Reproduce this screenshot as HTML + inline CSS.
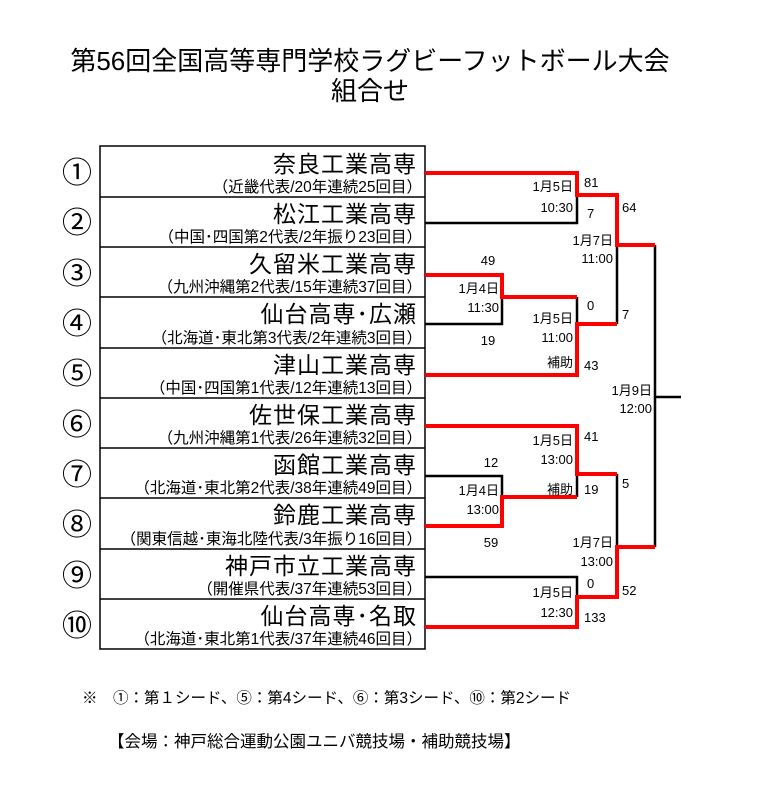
<!DOCTYPE html>
<html><head><meta charset="utf-8"><style>
body{margin:0;background:#fff;}
svg{display:block;font-family:"Liberation Sans","Noto Sans CJK JP",sans-serif;}
</style></head><body>
<svg width="779" height="800" viewBox="0 0 779 800" xmlns="http://www.w3.org/2000/svg">
<text x="370" y="70" font-size="26" text-anchor="middle">第56回全国高等専門学校ラグビーフットボール大会</text>
<text x="370" y="100" font-size="26" text-anchor="middle">組合せ</text>
<g stroke="#000" stroke-width="1.5" fill="none">
<rect x="100" y="146" width="325" height="503"/>
<line x1="100" y1="197" x2="425" y2="197"/><line x1="100" y1="247" x2="425" y2="247"/>
<line x1="100" y1="297" x2="425" y2="297"/><line x1="100" y1="348" x2="425" y2="348"/>
<line x1="100" y1="398" x2="425" y2="398"/><line x1="100" y1="448" x2="425" y2="448"/>
<line x1="100" y1="498" x2="425" y2="498"/><line x1="100" y1="549" x2="425" y2="549"/>
<line x1="100" y1="599" x2="425" y2="599"/>
</g>
<g font-size="30" text-anchor="middle">
<text x="77" y="183">①</text><text x="77" y="233">②</text><text x="77" y="284">③</text>
<text x="77" y="334">④</text><text x="77" y="384">⑤</text><text x="77" y="435">⑥</text>
<text x="77" y="485">⑦</text><text x="77" y="535">⑧</text><text x="77" y="586">⑨</text><text x="77" y="636">⑩</text>
</g>
<g font-size="23" text-anchor="end" letter-spacing="1">
<text x="417" y="172">奈良工業高専</text><text x="417" y="222">松江工業高専</text>
<text x="417" y="272">久留米工業高専</text><text x="417" y="322">仙台高専･広瀬</text>
<text x="417" y="373">津山工業高専</text><text x="417" y="423">佐世保工業高専</text>
<text x="417" y="473">函館工業高専</text><text x="417" y="523">鈴鹿工業高専</text>
<text x="417" y="574">神戸市立工業高専</text><text x="417" y="624">仙台高専･名取</text>
</g>
<g font-size="15.5" text-anchor="end">
<text x="422" y="192">（近畿代表/20年連続25回目）</text>
<text x="422" y="242">（中国･四国第2代表/2年振り23回目）</text>
<text x="422" y="292">（九州沖縄第2代表/15年連続37回目）</text>
<text x="422" y="343">（北海道･東北第3代表/2年連続3回目）</text>
<text x="422" y="393">（中国･四国第1代表/12年連続13回目）</text>
<text x="422" y="443">（九州沖縄第1代表/26年連続32回目）</text>
<text x="422" y="493">（北海道･東北第2代表/38年連続49回目）</text>
<text x="422" y="544">（関東信越･東海北陸代表/3年振り16回目）</text>
<text x="422" y="594">（開催県代表/37年連続53回目）</text>
<text x="422" y="644">（北海道･東北第1代表/37年連続46回目）</text>
</g>
<g stroke="#000" stroke-width="2.5" fill="none">
<polyline points="425,223 577,223 577,195"/>
<polyline points="425,324 502,324 502,297"/>
<line x1="577" y1="297" x2="577" y2="324"/>
<line x1="617" y1="245" x2="617" y2="324"/>
<line x1="655" y1="245" x2="655" y2="547"/>
<line x1="655" y1="397" x2="681" y2="397"/>
<polyline points="425,476 502,476 502,497"/>
<line x1="577" y1="474" x2="577" y2="497"/>
<line x1="617" y1="474" x2="617" y2="547"/>
<polyline points="425,577 577,577 577,597"/>
</g>
<g stroke="#f00" stroke-width="4" fill="none">
<polyline points="425,173 577,173 577,195 617,195 617,245 655,245"/>
<polyline points="425,275 502,275 502,297 577,297"/>
<polyline points="425,375 577,375 577,324 617,324"/>
<polyline points="425,426 577,426 577,474 617,474"/>
<polyline points="425,526 502,526 502,497 577,497"/>
<polyline points="425,627 577,627 577,597 617,597 617,547 655,547"/>
</g>
<g font-size="13">
<g text-anchor="end">
<text x="573" y="191">1月5日</text><text x="573" y="212">10:30</text>
<text x="613" y="245">1月7日</text><text x="613" y="263">11:00</text>
<text x="499" y="293">1月4日</text><text x="499" y="312">11:30</text>
<text x="573" y="323">1月5日</text><text x="573" y="342">11:00</text>
<text x="573" y="367">補助</text>
<text x="652" y="395">1月9日</text><text x="652" y="413">12:00</text>
<text x="573" y="445">1月5日</text><text x="573" y="464">13:00</text>
<text x="573" y="494">補助</text>
<text x="499" y="495">1月4日</text><text x="499" y="514">13:00</text>
<text x="613" y="547">1月7日</text><text x="613" y="566">13:00</text>
<text x="573" y="597">1月5日</text><text x="573" y="617">12:30</text>
</g>
<g text-anchor="middle">
<text x="488" y="265">49</text><text x="488" y="345">19</text>
<text x="491" y="467">12</text><text x="491" y="547">59</text>
</g>
<text x="584" y="187">81</text><text x="587" y="218">7</text><text x="622" y="212">64</text>
<text x="587" y="310">0</text><text x="622" y="319">7</text><text x="584" y="370">43</text>
<text x="584" y="441">41</text><text x="622" y="488">5</text><text x="584" y="494">19</text>
<text x="587" y="588">0</text><text x="622" y="595">52</text><text x="584" y="622">133</text>
</g>
<text x="82" y="703" font-size="15.5">※　①：第１シード、⑤：第4シード、⑥：第3シード、⑩：第2シード</text>
<text x="108" y="747" font-size="16.5">【会場：神戸総合運動公園ユニバ競技場・補助競技場】</text>
</svg>
</body></html>
